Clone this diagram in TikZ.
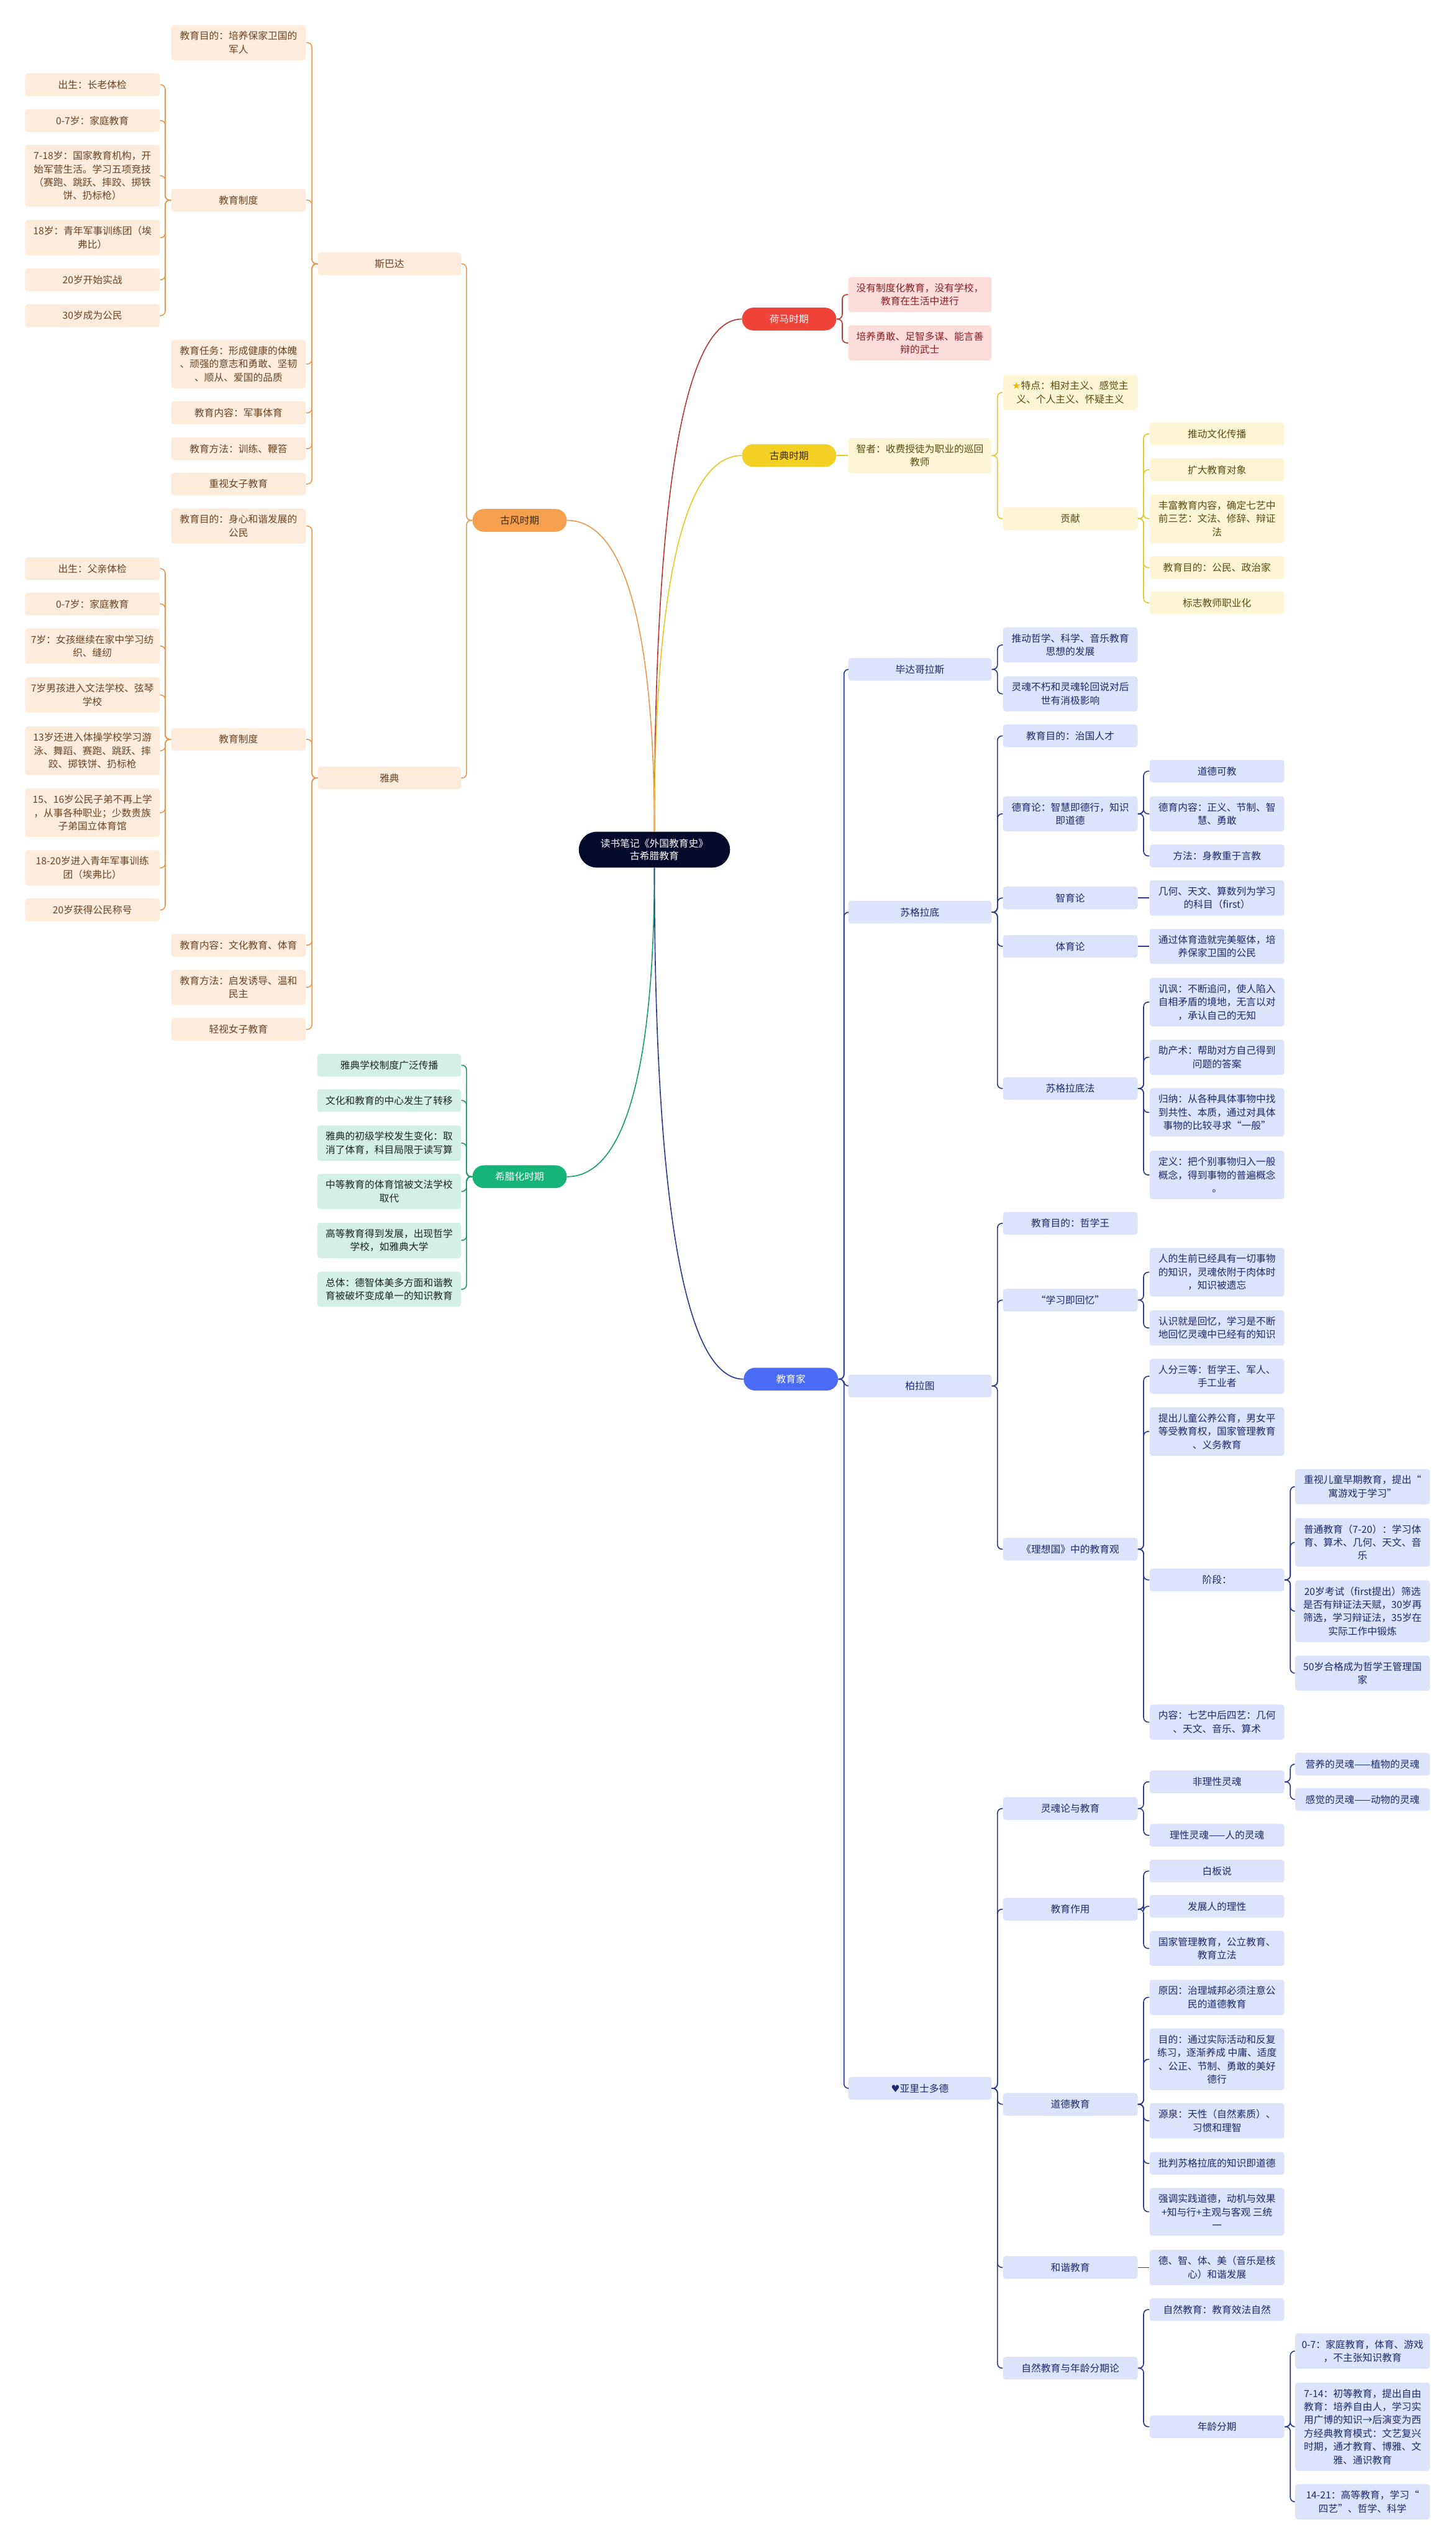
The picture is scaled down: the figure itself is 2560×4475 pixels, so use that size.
\documentclass[tikz,border=0pt]{standalone}
\usepackage{fontspec}
\setmainfont{Noto Sans CJK SC}
\newfontfamily\symfont{DejaVu Sans}
\definecolor{oraC}{HTML}{F5A04E}
\definecolor{oraL}{HTML}{E99A50}
\definecolor{oraF}{HTML}{FDEBDC}
\definecolor{oraT}{HTML}{6B4423}
\definecolor{redC}{HTML}{F0433A}
\definecolor{redL}{HTML}{B83A33}
\definecolor{redF}{HTML}{FDDCDC}
\definecolor{redT}{HTML}{8A1F1F}
\definecolor{yelC}{HTML}{F2D124}
\definecolor{yelL}{HTML}{E6C829}
\definecolor{yelF}{HTML}{FDF6D4}
\definecolor{yelT}{HTML}{5A4A12}
\definecolor{grnC}{HTML}{17B47A}
\definecolor{grnL}{HTML}{1A9E6C}
\definecolor{grnF}{HTML}{D2F1E4}
\definecolor{grnT}{HTML}{1E2622}
\definecolor{bluC}{HTML}{4B6BF5}
\definecolor{bluL}{HTML}{2C3A8F}
\definecolor{bluF}{HTML}{DCE3FB}
\definecolor{bluT}{HTML}{1D2A6B}
\definecolor{rootC}{HTML}{050A2D}
\definecolor{catT}{HTML}{3B2A14}
\definecolor{starC}{HTML}{F4B400}
\newcommand{\rconn}[3]{\foreach \c in {#3} {\draw[#1] (#2.east) -- ++(10,0) |- (\c.west);}}
\newcommand{\lconn}[3]{\foreach \c in {#3} {\draw[#1] (#2.west) -- ++(-10,0) |- (\c.east);}}
\begin{document}
\begin{tikzpicture}[x=0.5pt,y=-0.5pt,
  box/.style={rounded corners=2.5pt, align=center, inner xsep=2pt, inner ysep=5.6pt, minimum height=20pt, font=\fontsize{8.6}{11.7}\selectfont},
  wA/.style={minimum width=126pt},
  wB/.style={minimum width=118.5pt},
  oB/.style={box, wB, fill=oraF, text=oraT},
  oA/.style={box, wA, fill=oraF, text=oraT},
  rA/.style={box, wA, fill=redF, text=redT},
  yA/.style={box, wA, fill=yelF, text=yelT},
  yB/.style={box, wB, fill=yelF, text=yelT},
  gA/.style={box, minimum width=126.5pt, fill=grnF, text=grnT},
  bA/.style={box, wA, fill=bluF, text=bluT},
  bB/.style={box, wB, fill=bluF, text=bluT},
  cat/.style={rounded corners=10pt, minimum width=83pt, minimum height=20pt, inner sep=0pt, font=\fontsize{8.6}{11.7}\selectfont},
  central/.style={rounded corners=15.75pt, minimum width=133pt, minimum height=31.5pt, inner sep=0pt, align=center, fill=rootC, text=white, font=\fontsize{8.6}{10.5}\selectfont},
  ln/.style={line width=0.9pt, rounded corners=4pt},
  lnO/.style={ln, draw=oraL},
  lnR/.style={ln, draw=redL},
  lnY/.style={ln, draw=yelL},
  lnG/.style={ln, draw=grnL},
  lnB/.style={ln, draw=bluL}
]
\fill[white] (0,0) rectangle (2560,4475);
\useasboundingbox (0,0) rectangle (2560,4475);

% root and categories
\node[central] (root) at (1151,1494) {读书笔记《外国教育史》\\古希腊教育};
\node[cat, fill=redC, text=white] (homer) at (1388,561) {荷马时期};
\node[cat, fill=yelC, text=catT] (classic) at (1388,801) {古典时期};
\node[cat, fill=bluC, text=white] (edu) at (1391,2425) {教育家};
\node[cat, fill=oraC, text=catT] (archaic) at (914,915) {古风时期};
\node[cat, fill=grnC, text=white] (hell) at (914,2069) {希腊化时期};

% Homer
\node[rA] (h1) at (1618,518) {没有制度化教育，没有学校，\\教育在生活中进行};
\node[rA] (h2) at (1618,603) {培养勇敢、足智多谋、能言善\\辩的武士};

% Classic
\node[yA] (c1) at (1618,801) {智者：收费授徒为职业的巡回\\教师};
\node[yB] (c11) at (1882.5,690) {{\symfont\textcolor{starC}{★}}特点：相对主义、感觉主\\义、个人主义、怀疑主义};
\node[yB] (c12) at (1882.5,912) {贡献};
\node[yB] (c121) at (2140.5,763) {推动文化传播};
\node[yB] (c122) at (2140.5,826) {扩大教育对象};
\node[yB] (c123) at (2140.5,912) {丰富教育内容，确定七艺中\\前三艺：文法、修辞、辩证\\法};
\node[yB] (c124) at (2140.5,998) {教育目的：公民、政治家};
\node[yB] (c125) at (2140.5,1060) {标志教师职业化};

% Pythagoras
\node[bA] (py) at (1618,1177) {毕达哥拉斯};
\node[bB] (py1) at (1882.5,1134) {推动哲学、科学、音乐教育\\思想的发展};
\node[bB] (py2) at (1882.5,1220) {灵魂不朽和灵魂轮回说对后\\世有消极影响};

% Socrates
\node[bA] (so) at (1618,1604) {苏格拉底};
\node[bB] (so1) at (1882.5,1294) {教育目的：治国人才};
\node[bB] (so2) at (1882.5,1431) {德育论：智慧即德行，知识\\即道德};
\node[bB] (so21) at (2140.5,1356) {道德可教};
\node[bB] (so22) at (2140.5,1431) {德育内容：正义、节制、智\\慧、勇敢};
\node[bB] (so23) at (2140.5,1505) {方法：身教重于言教};
\node[bB] (so3) at (1882.5,1579) {智育论};
\node[bB] (so31) at (2140.5,1579) {几何、天文、算数列为学习\\的科目（first）};
\node[bB] (so4) at (1882.5,1664) {体育论};
\node[bB] (so41) at (2140.5,1664) {通过体育造就完美躯体，培\\养保家卫国的公民};
\node[bB] (so5) at (1882.5,1914) {苏格拉底法};
\node[bB] (so51) at (2140.5,1762) {讥讽：不断追问，使人陷入\\自相矛盾的境地，无言以对\\，承认自己的无知};
\node[bB] (so52) at (2140.5,1859) {助产术：帮助对方自己得到\\问题的答案};
\node[bB] (so53) at (2140.5,1956) {归纳：从各种具体事物中找\\到共性、本质，通过对具体\\事物的比较寻求“一般”};
\node[bB] (so54) at (2140.5,2066) {定义：把个别事物归入一般\\概念，得到事物的普遍概念\\。};

% Plato
\node[bA] (pl) at (1618,2437) {柏拉图};
\node[bB] (pl1) at (1882.5,2151) {教育目的：哲学王};
\node[bB] (pl2) at (1882.5,2286) {“学习即回忆”};
\node[bB] (pl21) at (2140.5,2237) {人的生前已经具有一切事物\\的知识，灵魂依附于肉体时\\，知识被遗忘};
\node[bB] (pl22) at (2140.5,2335) {认识就是回忆，学习是不断\\地回忆灵魂中已经有的知识};
\node[bB] (pl3) at (1882.5,2724) {《理想国》中的教育观};
\node[bB] (pl31) at (2140.5,2420) {人分三等：哲学王、军人、\\手工业者};
\node[bB] (pl32) at (2140.5,2517) {提出儿童公养公育，男女平\\等受教育权，国家管理教育\\、义务教育};
\node[bB] (pl33) at (2140.5,2778) {阶段：};
\node[bB] (pl331) at (2396.5,2614) {重视儿童早期教育，提出“\\寓游戏于学习”};
\node[bB] (pl332) at (2396.5,2712) {普通教育（7-20）：学习体\\育、算术、几何、天文、音\\乐};
\node[bB] (pl333) at (2396.5,2833) {20岁考试（first提出）筛选\\是否有辩证法天赋，30岁再\\筛选，学习辩证法，35岁在\\实际工作中锻炼};
\node[bB] (pl334) at (2396.5,2942) {50岁合格成为哲学王管理国\\家};
\node[bB] (pl34) at (2140.5,3028) {内容：七艺中后四艺：几何\\、天文、音乐、算术};

% Aristotle
\node[bA] (ar) at (1618,3672) {{\symfont ♥}亚里士多德};
\node[bB] (ar1) at (1882.5,3180) {灵魂论与教育};
\node[bB] (ar11) at (2140.5,3133) {非理性灵魂};
\node[bB] (ar111) at (2396.5,3102) {营养的灵魂——植物的灵魂};
\node[bB] (ar112) at (2396.5,3164) {感觉的灵魂——动物的灵魂};
\node[bB] (ar12) at (2140.5,3227) {理性灵魂——人的灵魂};
\node[bB] (ar2) at (1882.5,3357) {教育作用};
\node[bB] (ar21) at (2140.5,3290) {白板说};
\node[bB] (ar22) at (2140.5,3352) {发展人的理性};
\node[bB] (ar23) at (2140.5,3426) {国家管理教育，公立教育、\\教育立法};
\node[bB] (ar3) at (1882.5,3700) {道德教育};
\node[bB] (ar31) at (2140.5,3512) {原因：治理城邦必须注意公\\民的道德教育};
\node[bB] (ar32) at (2140.5,3621) {目的：通过实际活动和反复\\练习，逐渐养成 中庸、适度\\、公正、节制、勇敢的美好\\德行};
\node[bB] (ar33) at (2140.5,3729) {源泉：天性（自然素质）、\\习惯和理智};
\node[bB] (ar34) at (2140.5,3804) {批判苏格拉底的知识即道德};
\node[bB] (ar35) at (2140.5,3889) {强调实践道德，动机与效果\\+知与行+主观与客观 三统\\一};
\node[bB] (ar4) at (1882.5,3987) {和谐教育};
\node[bB] (ar41) at (2140.5,3987) {德、智、体、美（音乐是核\\心）和谐发展};
\node[bB] (ar5) at (1882.5,4164) {自然教育与年龄分期论};
\node[bB] (ar51) at (2140.5,4061) {自然教育：教育效法自然};
\node[bB] (ar52) at (2140.5,4267) {年龄分期};
\node[bB] (ar521) at (2396.5,4134) {0-7：家庭教育，体育、游戏\\，不主张知识教育};
\node[bB] (ar522) at (2396.5,4267) {7-14：初等教育，提出自由\\教育：培养自由人，学习实\\用广博的知识→后演变为西\\方经典教育模式：文艺复兴\\时期，通才教育、博雅、文\\雅、通识教育};
\node[bB] (ar523) at (2396.5,4399) {14-21：高等教育，学习“\\四艺”、哲学、科学};

% Sparta
\node[oA] (sp) at (685,464) {斯巴达};
\node[oB] (sp1) at (419.5,75) {教育目的：培养保家卫国的\\军人};
\node[oB] (sp2) at (419.5,352) {教育制度};
\node[oB] (sp21) at (162.5,149) {出生：长老体检};
\node[oB] (sp22) at (162.5,212) {0-7岁：家庭教育};
\node[oB] (sp23) at (162.5,309) {7-18岁：国家教育机构，开\\始军营生活。学习五项竞技\\（赛跑、跳跃、摔跤、掷铁\\饼、扔标枪）};
\node[oB] (sp24) at (162.5,418) {18岁：青年军事训练团（埃\\弗比）};
\node[oB] (sp25) at (162.5,492) {20岁开始实战};
\node[oB] (sp26) at (162.5,555) {30岁成为公民};
\node[oB] (sp3) at (419.5,640) {教育任务：形成健康的体魄\\、顽强的意志和勇敢、坚韧\\、顺从、爱国的品质};
\node[oB] (sp4) at (419.5,726) {教育内容：军事体育};
\node[oB] (sp5) at (419.5,789) {教育方法：训练、鞭笞};
\node[oB] (sp6) at (419.5,851) {重视女子教育};

% Athens
\node[oA] (at) at (685,1368) {雅典};
\node[oB] (at1) at (419.5,925) {教育目的：身心和谐发展的\\公民};
\node[oB] (at2) at (419.5,1300) {教育制度};
\node[oB] (at21) at (162.5,1000) {出生：父亲体检};
\node[oB] (at22) at (162.5,1062) {0-7岁：家庭教育};
\node[oB] (at23) at (162.5,1136) {7岁：女孩继续在家中学习纺\\织、缝纫};
\node[oB] (at24) at (162.5,1222) {7岁男孩进入文法学校、弦琴\\学校};
\node[oB] (at25) at (162.5,1320) {13岁还进入体操学校学习游\\泳、舞蹈、赛跑、跳跃、摔\\跤、掷铁饼、扔标枪};
\node[oB] (at26) at (162.5,1429) {15、16岁公民子弟不再上学\\，从事各种职业；少数贵族\\子弟国立体育馆};
\node[oB] (at27) at (162.5,1526) {18-20岁进入青年军事训练\\团（埃弗比）};
\node[oB] (at28) at (162.5,1600) {20岁获得公民称号};
\node[oB] (at3) at (419.5,1662) {教育内容：文化教育、体育};
\node[oB] (at4) at (419.5,1736) {教育方法：启发诱导、温和\\民主};
\node[oB] (at5) at (419.5,1810) {轻视女子教育};

% Hellenistic
\node[gA] (g1) at (684.5,1873) {雅典学校制度广泛传播};
\node[gA] (g2) at (684.5,1935) {文化和教育的中心发生了转移};
\node[gA] (g3) at (684.5,2010) {雅典的初级学校发生变化：取\\消了体育，科目局限于读写算};
\node[gA] (g4) at (684.5,2095) {中等教育的体育馆被文法学校\\取代};
\node[gA] (g5) at (684.5,2181) {高等教育得到发展，出现哲学\\学校，如雅典大学};
\node[gA] (g6) at (684.5,2267) {总体：德智体美多方面和谐教\\育被破坏变成单一的知识教育};

% main curves
\draw[lnO] (root.north) .. controls +(0,-273) and +(122,0) .. (archaic.east);
\draw[lnR] (root.north) .. controls +(0,-450) and +(-123,0) .. (homer.west);
\draw[lnY] (root.north) .. controls +(0,-330) and +(-123,0) .. (classic.west);
\draw[lnG] (root.south) .. controls +(0,272) and +(122,0) .. (hell.east);
\draw[lnB] (root.south) .. controls +(0,450) and +(-125,0) .. (edu.west);

% tree connectors
\rconn{lnR}{homer}{h1,h2}
\draw[lnY] (classic.east) -- (c1.west);
\rconn{lnY}{c1}{c11,c12}
\rconn{lnY}{c12}{c121,c122,c123,c124,c125}
\rconn{lnB}{edu}{py,so,pl,ar}
\rconn{lnB}{py}{py1,py2}
\rconn{lnB}{so}{so1,so2,so3,so4,so5}
\rconn{lnB}{so2}{so21,so22,so23}
\draw[lnB] (so3.east) -- (so31.west);
\draw[lnB] (so4.east) -- (so41.west);
\rconn{lnB}{so5}{so51,so52,so53,so54}
\rconn{lnB}{pl}{pl1,pl2,pl3}
\rconn{lnB}{pl2}{pl21,pl22}
\rconn{lnB}{pl3}{pl31,pl32,pl33,pl34}
\rconn{lnB}{pl33}{pl331,pl332,pl333,pl334}
\rconn{lnB}{ar}{ar1,ar2,ar3,ar4,ar5}
\rconn{lnB}{ar1}{ar11,ar12}
\rconn{lnB}{ar11}{ar111,ar112}
\rconn{lnB}{ar2}{ar21,ar22,ar23}
\rconn{lnB}{ar3}{ar31,ar32,ar33,ar34,ar35}
\draw[lnB] (ar4.east) -- (ar41.west);
\rconn{lnB}{ar5}{ar51,ar52}
\rconn{lnB}{ar52}{ar521,ar522,ar523}
\lconn{lnO}{archaic}{sp,at}
\lconn{lnO}{sp}{sp1,sp2,sp3,sp4,sp5,sp6}
\lconn{lnO}{sp2}{sp21,sp22,sp23,sp24,sp25,sp26}
\lconn{lnO}{at}{at1,at2,at3,at4,at5}
\lconn{lnO}{at2}{at21,at22,at23,at24,at25,at26,at27,at28}
\lconn{lnG}{hell}{g1,g2,g3,g4,g5,g6}
\end{tikzpicture}
\end{document}
